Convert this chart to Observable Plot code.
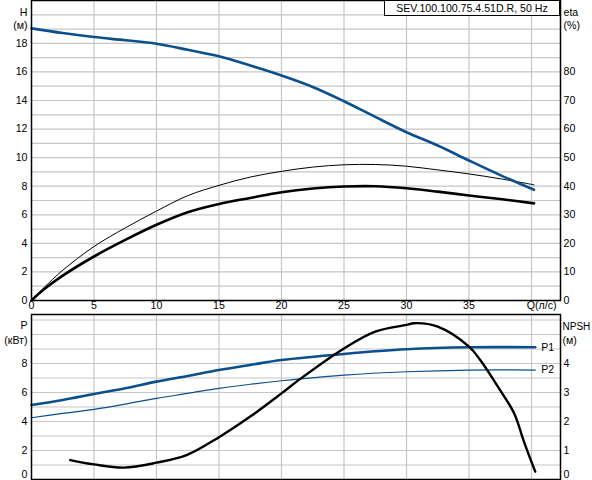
<!DOCTYPE html>
<html><head><meta charset="utf-8">
<script src="https://cdn.jsdelivr.net/npm/d3@7"></script>
<script src="https://cdn.jsdelivr.net/npm/@observablehq/plot@0.6"></script>
<style>
body{margin:0;background:#fff;font-family:"Liberation Sans",Arial,sans-serif;}
#wrap{position:relative;width:592px;height:480px;overflow:hidden;}
#topPanel,#botPanel{position:absolute;left:0;}
#topPanel{top:0}
#botPanel{top:314px}
#title{position:absolute;left:384px;top:0;width:176px;height:16px;box-sizing:border-box;border:1px solid #000;background:#fff;font-size:10.6px;line-height:14px;text-align:center;color:#000;}
</style></head>
<body>
<div id="wrap"><div id="topPanel"></div><div id="botPanel"></div><div id="title">SEV.100.100.75.4.51D.R, 50 Hz</div></div>
<script>
// ---- data ----
const qH   = [0,2.5,5,7.5,10,12.5,15,17.5,20,22.5,25,27.5,30,32.5,35,37.5,40.2];
const headH = [19.05,18.72,18.44,18.22,17.97,17.55,17.1,16.45,15.75,14.95,13.95,12.85,11.78,10.85,9.8,8.78,7.75];

const qEta = [0,1,2.5,5,7.5,10,12.5,15,17.5,20,22.5,25,27.5,30,32.5,35,37.5,40.2];
const etaPump  = [0,4.5,10.6,18.9,25.4,31.3,36.7,40.3,43.2,45.2,46.7,47.5,47.6,47.0,45.7,44.3,42.6,40.5];
const etaTotal = [0,3.9,8.7,15.4,21.2,26.5,30.9,33.8,35.9,37.9,39.2,39.9,40.0,39.3,38.1,36.75,35.5,34.0];

const qP = [0,2.5,5,7.5,10,12.5,15,17.5,20,25,30,35,40.3];
const powerP1 = [5.14,5.48,5.9,6.29,6.75,7.14,7.55,7.9,8.24,8.66,8.98,9.12,9.12];
const powerP2 = [4.26,4.56,4.84,5.2,5.6,5.94,6.29,6.57,6.81,7.2,7.43,7.55,7.55];

const qN = [3.1,5,7.4,10,12.4,15,17.5,20,21.5,25,27.5,30,30.6,32.5,35,35.9,37.4,38.6,39.4,40.3];
const npsh = [0.67,0.52,0.41,0.58,0.84,1.46,2.17,2.97,3.47,4.52,5.1,5.33,5.39,5.27,4.58,4.12,3.14,2.29,1.30,0.27];

const xTicks = [0,5,10,15,20,25,30,35];
const hTicks = [0,2,4,6,8,10,12,14,16,18];
const etaTicks = [0,10,20,30,40,50,60,70,80];
const pTicks = [2,4,6,8];
const nTicks = [1,2,3,4];

// ---- helpers ----
const rows = (qs, vs) => qs.map((q,i)=>({q, v: vs[i]}));
const blue = "#0b4f8c";
const grid = "#c6c6c6";
const xDomain = [0, 42.32];
const curve = "catmull-rom";
const style = {fontFamily:"'Liberation Sans', Arial, sans-serif", fontSize:"10.6px", overflow:"visible", background:"transparent", color:"#000"};

const topPlot = Plot.plot({
  width:592, height:316, marginLeft:31, marginRight:32, marginTop:0, marginBottom:16,
  x:{domain:xDomain, axis:null},
  y:{domain:[0,21], axis:null},
  style,
  marks:[
    Plot.ruleX([5,10,15,20,25,30,35,40], {x:d=>d, stroke:grid, strokeWidth:1.2}),
    Plot.ruleY(d3.range(1,21), {y:d=>d, stroke:grid, strokeWidth:1.2}),
    Plot.line(rows(qEta, etaPump), {x:"q", y:d=>d.v/5, stroke:"#000", strokeWidth:1, curve}),
    Plot.line(rows(qEta, etaTotal), {x:"q", y:d=>d.v/5, stroke:"#000", strokeWidth:2.6, curve}),
    Plot.line(rows(qH, headH), {x:"q", y:"v", stroke:blue, strokeWidth:2.6, curve}),
    Plot.frame({stroke:"#000", strokeWidth:1.5}),
    Plot.text(hTicks, {y:d=>d, frameAnchor:"left", dx:-4, textAnchor:"end", text:d=>String(d), fill:"#000"}),
    Plot.text(etaTicks, {y:d=>d/5, frameAnchor:"right", dx:3, textAnchor:"start", text:d=>String(d), fill:"#000"}),
    Plot.text(xTicks, {x:d=>d, frameAnchor:"bottom", dy:8, text:d=>String(d), fill:"#000"}),
    Plot.text(["Q(л/с)"], {frameAnchor:"bottom-right", dx:-4, dy:8, textAnchor:"end", fill:"#000"}),
    Plot.text(["H"], {frameAnchor:"top-left", dx:-4, dy:8, textAnchor:"end", fill:"#000"}),
    Plot.text(["(м)"], {frameAnchor:"top-left", dx:-4, dy:21, textAnchor:"end", fill:"#000"}),
    Plot.text(["eta"], {frameAnchor:"top-right", dx:3, dy:8, textAnchor:"start", fill:"#000"}),
    Plot.text(["(%)"], {frameAnchor:"top-right", dx:3, dy:21, textAnchor:"start", fill:"#000"})
  ]
});
document.getElementById("topPanel").appendChild(topPlot);

const p1 = rows(qP, powerP1), p2 = rows(qP, powerP2);
const botPlot = Plot.plot({
  width:592, height:166, marginLeft:31, marginRight:32, marginTop:0, marginBottom:1,
  x:{domain:xDomain, axis:null},
  y:{domain:[0,11.38], axis:null},
  style,
  marks:[
    Plot.ruleX([5,10,15,20,25,30,35,40], {x:d=>d, stroke:grid, strokeWidth:1.2}),
    Plot.ruleY(d3.range(1,12), {y:d=>d, stroke:grid, strokeWidth:1.2}),
    Plot.line(p2, {x:"q", y:"v", stroke:blue, strokeWidth:1.2, curve}),
    Plot.line(p1, {x:"q", y:"v", stroke:blue, strokeWidth:2.6, curve}),
    Plot.line(rows(qN, npsh), {x:"q", y:d=>d.v*2, stroke:"#000", strokeWidth:2.4, curve}),
    Plot.text([p1[p1.length-1]], {x:"q", y:"v", text:()=>"P1", dx:6, textAnchor:"start", fill:"#000"}),
    Plot.text([p2[p2.length-1]], {x:"q", y:"v", text:()=>"P2", dx:6, textAnchor:"start", fill:"#000"}),
    Plot.frame({stroke:"#000", strokeWidth:1.5}),
    Plot.text(pTicks, {y:d=>d, frameAnchor:"left", dx:-4, textAnchor:"end", text:d=>String(d), fill:"#000"}),
    Plot.text([0], {y:d=>d, frameAnchor:"left", dx:-4, dy:-5, textAnchor:"end", text:d=>String(d), fill:"#000"}),
    Plot.text(nTicks, {y:d=>d*2, frameAnchor:"right", dx:3, textAnchor:"start", text:d=>String(d), fill:"#000"}),
    Plot.text([0], {y:d=>d*2, frameAnchor:"right", dx:3, dy:-5, textAnchor:"start", text:d=>String(d), fill:"#000"}),
    Plot.text(["P"], {frameAnchor:"top-left", dx:-4, dy:7, textAnchor:"end", fill:"#000"}),
    Plot.text(["(кВт)"], {frameAnchor:"top-left", dx:-4, dy:22, textAnchor:"end", fill:"#000"}),
    Plot.text(["NPSH"], {frameAnchor:"top-right", dx:2, dy:8, textAnchor:"start", fill:"#000", fontSize:10}),
    Plot.text(["(м)"], {frameAnchor:"top-right", dx:2, dy:22, textAnchor:"start", fill:"#000"})
  ]
});
document.getElementById("botPanel").appendChild(botPlot);
</script>
</body></html>
